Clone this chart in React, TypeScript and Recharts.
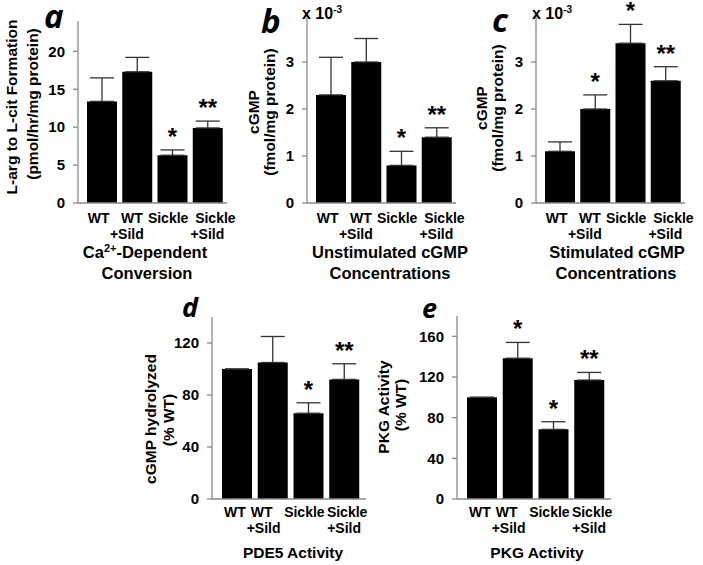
import { Bar, BarChart, ErrorBar, LabelList, XAxis, YAxis } from 'recharts';

const groups = ['WT', 'WT+Sild', 'Sickle', 'Sickle+Sild'];
const groupLine1 = ['WT', 'WT', 'Sickle', 'Sickle'];
const groupLine2 = ['', '+Sild', '', '+Sild'];

// a: Ca2+-dependent conversion
const conversionMean = [13.4, 17.3, 6.3, 9.9];
const conversionErr = [3.1, 1.9, 0.7, 0.9];
const conversionSig = ['', '', '*', '**'];
const conversionTicks = [0, 5, 10, 15, 20];

// b: unstimulated cGMP (x 10^-3)
const unstimMean = [2.3, 3.0, 0.8, 1.4];
const unstimErr = [0.8, 0.5, 0.3, 0.2];
const unstimSig = ['', '', '*', '**'];

// c: stimulated cGMP (x 10^-3)
const stimMean = [1.1, 2.0, 3.4, 2.6];
const stimErr = [0.2, 0.3, 0.4, 0.3];
const stimSig = ['', '*', '*', '**'];
const cgmpTicks = [0, 1, 2, 3];

// d: PDE5 activity
const pde5Mean = [100, 105, 66, 92];
const pde5Err = [0, 20, 8, 12];
const pde5Sig = ['', '', '*', '**'];
const pde5Ticks = [0, 40, 80, 120];

// e: PKG activity
const pkgMean = [100, 138.5, 68.5, 117];
const pkgErr = [0, 15.5, 7.5, 7.5];
const pkgSig = ['', '*', '*', '**'];
const pkgTicks = [0, 40, 80, 120, 160];

const FONT = '"Liberation Sans", Arial, sans-serif';
const AXIS = '#8a8a8a';

// the category labels in the figure sit a little off the bar centres
const row1Shift = { line1: [-3, -5, -4, 8], line2: [0, -10, 0, 0] };
const row2Shift = { line1: [-2, -11, -4, 3], line2: [0, -9, 0, 0] };

function CategoryTick(props: any) {
  const { x, y, payload, first, second, shift } = props;
  const i = groups.indexOf(payload.value);
  const x1 = x + shift.line1[i];
  const x2 = x + shift.line2[i];
  return (
    <text x={x1} y={y} textAnchor="middle" fontFamily={FONT} fontSize={14} fontWeight="bold" fill="#000">
      <tspan x={x1} dy={first}>{groupLine1[i]}</tspan>
      {groupLine2[i] ? <tspan x={x2} dy={second - first}>{groupLine2[i]}</tspan> : null}
    </text>
  );
}

const sigLabel = (mean: number[], err: number[]) => (props: any) => {
  const { index, value } = props;
  if (!value) return null;
  const vb = props.viewBox ?? props;
  const x = vb.x ?? props.x;
  const y = vb.y ?? props.y;
  const width = vb.width ?? props.width;
  const height = vb.height ?? props.height;
  const errPx = mean[index] ? (err[index] / mean[index]) * height : 0;
  return (
    <text x={x + width / 2} y={y - errPx - 5} textAnchor="middle" fontFamily={FONT} fontSize={24} fontWeight="bold" fill="#000">
      {value}
    </text>
  );
};

type PanelProps = {
  left: number;
  top: number;
  height: number;
  plotTop: number;
  plotBottom: number;
  plotWidth: number;
  pad: { left: number; right: number };
  max: number;
  ticks: number[];
  mean: number[];
  err: number[];
  sig: string[];
  tickDy: [number, number];
  shift: { line1: number[]; line2: number[] };
};

function Panel(p: PanelProps) {
  const data = groups.map((g, i) => ({ group: g, mean: p.mean[i], errRange: [0, p.err[i]], sig: p.sig[i] }));
  const yw = 60;
  return (
    <div style={{ position: 'absolute', left: p.left, top: p.top }}>
      <BarChart
        width={yw + p.plotWidth + 10}
        height={p.height}
        data={data}
        margin={{ top: p.plotTop, right: 10, bottom: 0, left: 0 }}
        style={{ overflow: 'visible' }}
      >
        <XAxis
          dataKey="group"
          height={p.height - p.plotBottom}
          padding={p.pad}
          axisLine={{ stroke: AXIS, strokeWidth: 1.3 }}
          tickLine={false}
          tickSize={0}
          tickMargin={0}
          interval={0}
          tick={<CategoryTick first={p.tickDy[0]} second={p.tickDy[1]} shift={p.shift} />}
        />
        <YAxis
          width={yw}
          domain={[0, p.max]}
          ticks={p.ticks}
          allowDataOverflow
          axisLine={{ stroke: AXIS, strokeWidth: 1.3 }}
          tickLine={{ stroke: AXIS, strokeWidth: 1.3 }}
          tickSize={5}
          tickMargin={8}
          tick={{ fontFamily: FONT, fontSize: 15, fontWeight: 'bold', fill: '#000' }}
        />
        <Bar dataKey="mean" fill="#000" barSize={30} isAnimationActive={false}>
          <ErrorBar dataKey="errRange" width={12} stroke="#333" strokeWidth={1.3} />
          <LabelList dataKey="sig" content={sigLabel(p.mean, p.err)} />
        </Bar>
      </BarChart>
    </div>
  );
}

function VTitle({ x, y, size, children }: { x: number; y: number; size: number; children: any }) {
  return (
    <text
      x={x}
      y={y}
      transform={`rotate(-90 ${x} ${y})`}
      textAnchor="middle"
      dominantBaseline="central"
      fontFamily={FONT}
      fontSize={size}
      fontWeight="bold"
      fill="#000"
    >
      {children}
    </text>
  );
}

function HTitle({ x, y, size, children }: { x: number; y: number; size: number; children: any }) {
  return (
    <text x={x} y={y} textAnchor="middle" fontFamily={FONT} fontSize={size} fontWeight="bold" fill="#000">
      {children}
    </text>
  );
}

function Letter({ x, y, size, children }: { x: number; y: number; size: number; children: any }) {
  return (
    <text x={x} y={y} fontFamily='"Open Sans", sans-serif' fontStyle="italic" fontWeight="bold" fontSize={size} fill="#000">
      {children}
    </text>
  );
}

function Scale({ x }: { x: number }) {
  return (
    <text x={x} y={19} fontFamily={FONT} fontSize={16} fontWeight="bold" fill="#000">
      x 10<tspan dy={-6} fontSize={10}>-3</tspan>
    </text>
  );
}

export default function App() {
  const row1 = { top: 0, height: 290, plotBottom: 203, plotWidth: 149, pad: { left: 6, right: 2 }, tickDy: [20, 36] as [number, number], shift: row1Shift };
  const row2 = { top: 290, height: 275, plotBottom: 209, plotWidth: 154, pad: { left: 7, right: 4 }, tickDy: [18, 34] as [number, number], shift: row2Shift };
  return (
    <div style={{ position: 'absolute', left: 0, top: 0, width: 703, height: 565, background: '#fff', overflow: 'hidden' }}>
      <Panel {...row1} left={18} plotTop={21} max={24} ticks={conversionTicks} mean={conversionMean} err={conversionErr} sig={conversionSig} />
      <Panel {...row1} left={247} plotTop={15} max={4} ticks={cgmpTicks} mean={unstimMean} err={unstimErr} sig={unstimSig} />
      <Panel {...row1} left={476} plotTop={15} max={4} ticks={cgmpTicks} mean={stimMean} err={stimErr} sig={stimSig} />
      <Panel {...row2} left={152} plotTop={27} max={140} ticks={pde5Ticks} mean={pde5Mean} err={pde5Err} sig={pde5Sig} />
      <Panel {...row2} left={396.5} plotTop={26} max={180} ticks={pkgTicks} mean={pkgMean} err={pkgErr} sig={pkgSig} />
      <svg width={703} height={565} style={{ position: 'absolute', left: 0, top: 0, pointerEvents: 'none' }}>
        <Letter x={44} y={28} size={33}>a</Letter>
        <Letter x={261} y={33} size={33}>b</Letter>
        <Letter x={492} y={32} size={33}>c</Letter>
        <Letter x={182} y={317} size={27}>d</Letter>
        <Letter x={422} y={318} size={27}>e</Letter>
        <Scale x={302} />
        <Scale x={532} />

        <VTitle x={11} y={107} size={15.5}>L-arg to L-cit Formation</VTitle>
        <VTitle x={32} y={104} size={15.5}>(pmol/hr/mg protein)</VTitle>
        <VTitle x={253} y={112} size={15.5}>cGMP</VTitle>
        <VTitle x={269} y={112} size={15.5}>(fmol/mg protein)</VTitle>
        <VTitle x={481} y={108} size={15.5}>cGMP</VTitle>
        <VTitle x={497} y={108} size={15.5}>(fmol/mg protein)</VTitle>
        <VTitle x={150} y={419} size={15.5}>cGMP hydrolyzed</VTitle>
        <VTitle x={168} y={420} size={15.5}>(% WT)</VTitle>
        <VTitle x={383} y={407} size={15.5}>PKG Activity</VTitle>
        <VTitle x={400} y={405} size={15.5}>(% WT)</VTitle>

        <HTitle x={145} y={258} size={16.5}>
          Ca<tspan dy={-6} fontSize={11}>2+</tspan>
          <tspan dy={6}>-Dependent</tspan>
        </HTitle>
        <HTitle x={147} y={279} size={16.5}>Conversion</HTitle>
        <HTitle x={390} y={258} size={16.5}>Unstimulated cGMP</HTitle>
        <HTitle x={390} y={279} size={16.5}>Concentrations</HTitle>
        <HTitle x={617} y={258} size={16.5}>Stimulated cGMP</HTitle>
        <HTitle x={616} y={279} size={16.5}>Concentrations</HTitle>
        <HTitle x={293} y={558} size={15.5}>PDE5 Activity</HTitle>
        <HTitle x={537} y={558} size={15.5}>PKG Activity</HTitle>
      </svg>
    </div>
  );
}
